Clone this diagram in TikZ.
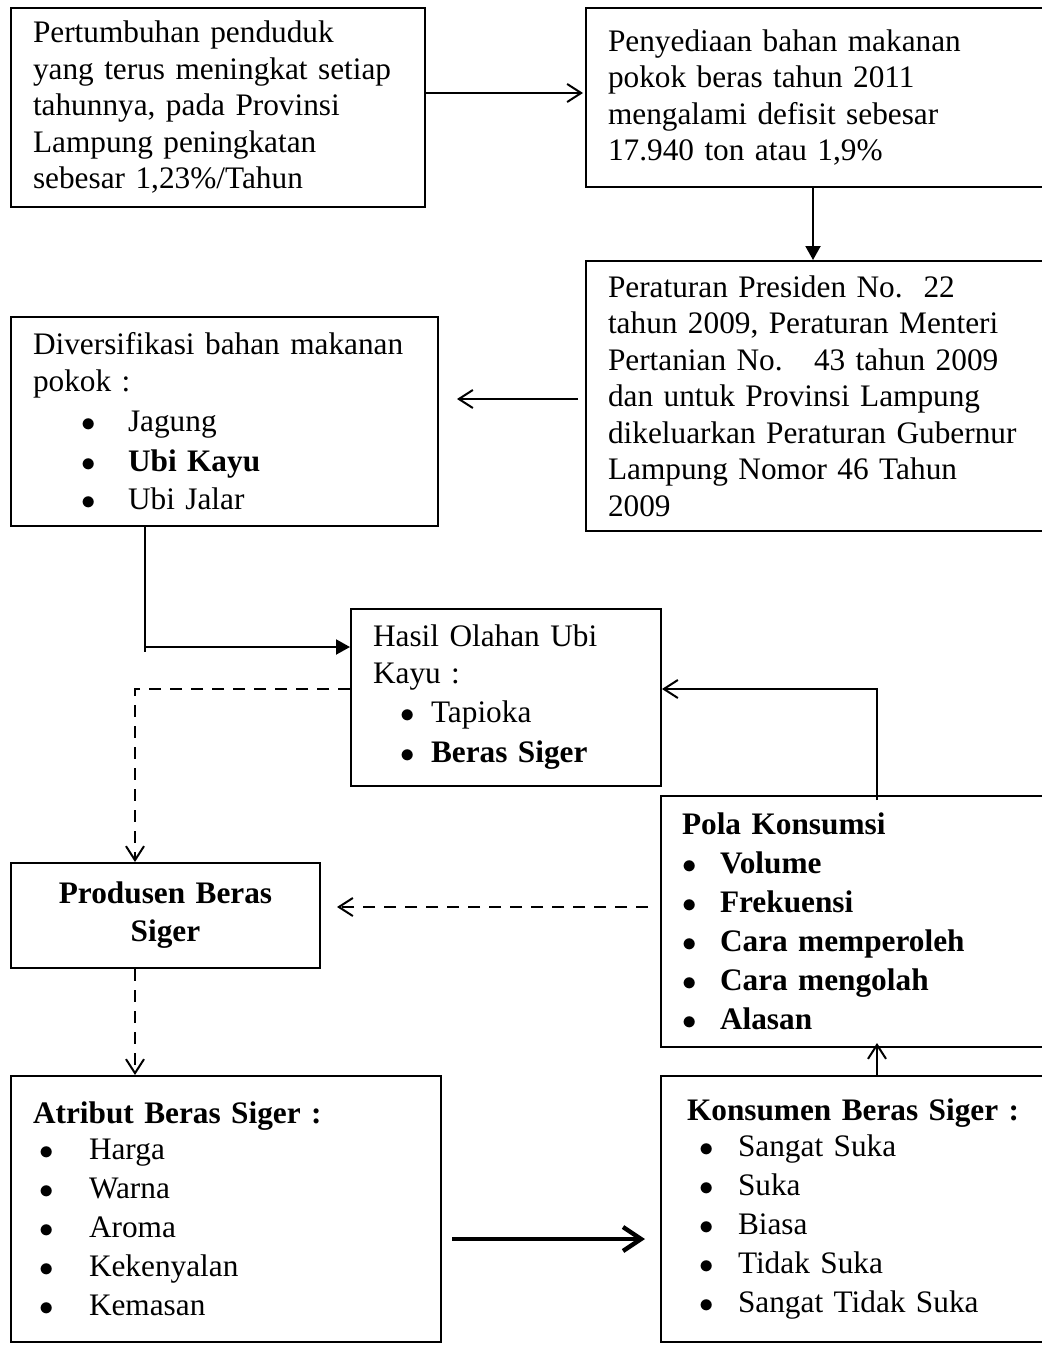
\documentclass[tikz,border=0pt]{standalone}
\usepackage{fontspec}
\setmainfont{Liberation Serif}
\usetikzlibrary{arrows.meta}
\newcommand{\bul}[2]{\hspace*{#1}\makebox[#2][l]{$\bullet$}}
\tikzset{
  panel/.style={draw, line width=1pt, anchor=north west, align=left,
    inner xsep=11pt, inner ysep=0pt, font=\fontsize{15.65pt}{18.25pt}\selectfont},
  link/.style={line width=1pt},
  flowo/.style={-{Straight Barb[length=7pt, width=9pt]}, line width=1pt},
  flowf/.style={-{Triangle[length=7pt, width=7.5pt]}, line width=1pt},
  flowd/.style={-{Straight Barb[length=7pt, width=9pt]}, line width=1pt,
    dash pattern=on 6pt off 4.5pt},
  flowt/.style={-{Straight Barb[length=9pt, width=12pt]}, line width=2.2pt},
}

\begin{document}
\begin{tikzpicture}[x=0.5pt, y=-0.5pt]
  \useasboundingbox (0,0) rectangle (1041,1349);
  % top row
  \node[panel, text width=185pt, minimum height=99.5pt] (growth) at (10,7)
    {Pertumbuhan penduduk\\yang terus meningkat setiap\\tahunnya, pada Provinsi\\Lampung peningkatan\\sebesar 1,23\%/Tahun};
  \node[panel, text width=240pt, minimum height=89.5pt] (supply) at (585,7)
    {Penyediaan bahan makanan\\pokok beras tahun 2011\\mengalami defisit sebesar\\17.940 ton atau 1,9\%};
  \node[panel, text width=240pt, minimum height=135pt] (rule) at (585,260)
    {Peraturan Presiden No.\ \ 22\\tahun 2009, Peraturan Menteri\\Pertanian No.\ \ \ 43 tahun 2009\\dan untuk Provinsi Lampung\\dikeluarkan Peraturan Gubernur\\Lampung Nomor 46 Tahun\\2009};
  \node[panel, text width=191.5pt, minimum height=104.5pt] (diver) at (10,316)
    {Diversifikasi bahan makanan\\pokok :\\[1.75pt]
     \bul{24pt}{23.5pt}Jagung\\[1.75pt]
     \bul{24pt}{23.5pt}\textbf{Ubi Kayu}\\[1pt]
     \bul{24pt}{23.5pt}Ubi Jalar};
  % middle
  \node[panel, text width=133pt, minimum height=88.5pt] (hasil) at (350,608)
    {Hasil Olahan Ubi\\[0.25pt]Kayu :\\[1.25pt]
     \bul{13.5pt}{15.5pt}Tapioka\\[1.75pt]
     \bul{13.5pt}{15.5pt}\textbf{Beras Siger}};
  \node[panel, align=center, text width=132.5pt, minimum height=52.5pt] (produsen) at (10,862)
    {\textbf{Produsen Beras}\\[0.75pt]\textbf{Siger}};
  \node[panel, inner xsep=10.5pt, text width=200pt, minimum height=125.5pt] (pola) at (660,795)
    {\textbf{Pola Konsumsi}\\[1.25pt]
     \bul{0pt}{19pt}\textbf{Volume}\\[1.25pt]
     \bul{0pt}{19pt}\textbf{Frekuensi}\\[1.25pt]
     \bul{0pt}{19pt}\textbf{Cara memperoleh}\\[1.25pt]
     \bul{0pt}{19pt}\textbf{Cara mengolah}\\[1.25pt]
     \bul{0pt}{19pt}\textbf{Alasan}};
  % bottom row
  \node[panel, text width=193pt, minimum height=133pt] (atribut) at (10,1075)
    {\textbf{Atribut Beras Siger :}\\
     \bul{3pt}{25pt}Harga\\[1.25pt]
     \bul{3pt}{25pt}Warna\\[1.25pt]
     \bul{3pt}{25pt}Aroma\\[1.25pt]
     \bul{3pt}{25pt}Kekenyalan\\[1.25pt]
     \bul{3pt}{25pt}Kemasan};
  \node[panel, inner xsep=13pt, text width=200pt, minimum height=133pt] (konsumen) at (660,1075)
    {\textbf{Konsumen Beras Siger :}\\
     \bul{6pt}{19.5pt}Sangat Suka\\[1.25pt]
     \bul{6pt}{19.5pt}Suka\\[1.25pt]
     \bul{6pt}{19.5pt}Biasa\\[1.25pt]
     \bul{6pt}{19.5pt}Tidak Suka\\[1.25pt]
     \bul{6pt}{19.5pt}Sangat Tidak Suka};
  % connectors
  \draw[flowo, shorten >=1pt] ([yshift=7.25pt]growth.east) -- ([yshift=7.25pt]growth.east -| supply.west);
  \draw[flowf] ([xshift=-17.5pt]supply.south) -- ([xshift=-17.5pt]supply.south |- rule.north);
  \draw[flowo, shorten <=3.5pt, shorten >=9pt] ([yshift=-1.5pt]rule.west) -- ([yshift=-1.5pt]rule.west -| diver.east);
  \draw[link] ([xshift=-40pt]diver.south) -- ++(0,120) coordinate (bend) -- ++(0,5);
  \draw[flowf] (bend) -- (bend -| hasil.west);
  \draw[flowd] ([yshift=4.25pt]hasil.west) -| ([xshift=-15.25pt]produsen.north);
  \draw[flowo] ([xshift=-2.5pt, yshift=-2.5pt]pola.north) |- ([yshift=4.25pt]hasil.east);
  \draw[flowd, shorten <=6pt, shorten >=8pt] ([yshift=7.25pt]pola.west) -- ([yshift=7.25pt]pola.west -| produsen.east);
  \draw[flowd] ([xshift=-15.25pt]produsen.south) -- ([xshift=-15.25pt]produsen.south |- atribut.north);
  \draw[flowt, shorten <=5pt, shorten >=7.5pt] ([yshift=-15pt]atribut.east) -- ([yshift=-15pt]atribut.east -| konsumen.west);
  \draw[flowo] ([xshift=-5pt]konsumen.north) -- ([xshift=-5pt, yshift=2.5pt]konsumen.north |- pola.south);
\end{tikzpicture}
\end{document}
